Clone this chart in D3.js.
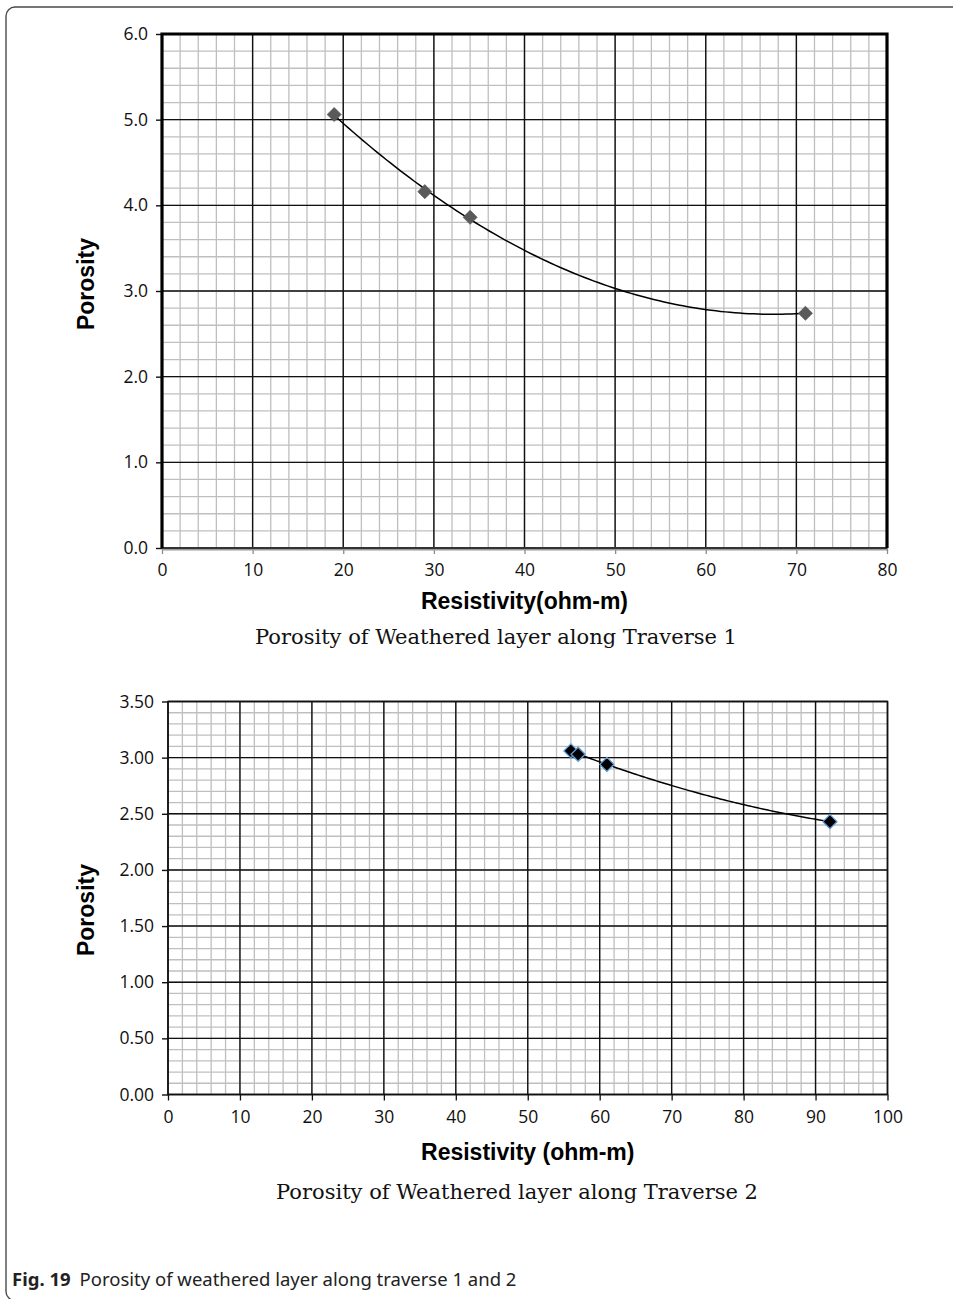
<!DOCTYPE html>
<html>
<head>
<meta charset="utf-8">
<script src="https://cdn.jsdelivr.net/npm/d3@7"></script>
<style>
  html, body { margin: 0; padding: 0; background: #fff; }
  svg { display: block; }
</style>
</head>
<body>
<svg id="fig" width="953" height="1299"></svg>
<script>
// Traverse 1: resistivity (ohm-m) vs porosity
const t1Resistivity = [19, 29, 34, 71];
const t1Porosity = [5.06, 4.16, 3.86, 2.74];
const t1XTicks = [0, 10, 20, 30, 40, 50, 60, 70, 80];
const t1YTicks = [0, 1, 2, 3, 4, 5, 6];

// Traverse 2: resistivity (ohm-m) vs porosity
const t2Resistivity = [56, 57, 61, 92];
const t2Porosity = [3.06, 3.03, 2.94, 2.43];
const t2XTicks = [0, 10, 20, 30, 40, 50, 60, 70, 80, 90, 100];
const t2YTicks = [0, 0.5, 1, 1.5, 2, 2.5, 3, 3.5];

const svg = d3.select("#fig");

// Rounded figure frame (continues past the right and bottom edges)
svg.append("rect")
  .attr("x", 6).attr("y", 7)
  .attr("width", 1000).attr("height", 1293.5)
  .attr("rx", 9).attr("ry", 9)
  .attr("fill", "none").attr("stroke", "#4a4a4a").attr("stroke-width", 1.4);

// Least-squares second-order polynomial fit, returns y(x)
function quadFit(xs, ys) {
  const S = k => d3.sum(xs, x => Math.pow(x, k));
  const T = k => d3.sum(xs, (x, i) => Math.pow(x, k) * ys[i]);
  const A = [[S(0), S(1), S(2), T(0)], [S(1), S(2), S(3), T(1)], [S(2), S(3), S(4), T(2)]];
  for (let c = 0; c < 3; c++) {
    let p = c;
    for (let r = c + 1; r < 3; r++) if (Math.abs(A[r][c]) > Math.abs(A[p][c])) p = r;
    [A[c], A[p]] = [A[p], A[c]];
    for (let r = 0; r < 3; r++) {
      if (r === c) continue;
      const f = A[r][c] / A[c][c];
      for (let k = c; k < 4; k++) A[r][k] -= f * A[c][k];
    }
  }
  const b = A.map((row, i) => row[3] / row[i]);
  return x => b[0] + b[1] * x + b[2] * x * x;
}

function drawChart(cfg) {
  const g = svg.append("g");
  const x = d3.scaleLinear().domain(cfg.xDomain).range([cfg.left, cfg.right]);
  const y = d3.scaleLinear().domain(cfg.yDomain).range([cfg.bottom, cfg.top]);

  // Minor grid
  const xMinor = d3.range(cfg.xDomain[0], cfg.xDomain[1] + 1e-9, cfg.xMinor);
  const yMinor = d3.range(cfg.yDomain[0], cfg.yDomain[1] + 1e-9, cfg.yMinor);
  g.append("g").selectAll("line").data(xMinor).join("line")
    .attr("x1", d => x(d)).attr("x2", d => x(d))
    .attr("y1", cfg.top).attr("y2", cfg.bottom)
    .attr("stroke", "#bfbfbf").attr("stroke-width", 1.3);
  g.append("g").selectAll("line").data(yMinor).join("line")
    .attr("x1", cfg.left).attr("x2", cfg.right)
    .attr("y1", d => y(d)).attr("y2", d => y(d))
    .attr("stroke", "#bfbfbf").attr("stroke-width", 1.3);

  // Major grid
  g.append("g").selectAll("line").data(cfg.xTicks).join("line")
    .attr("x1", d => x(d)).attr("x2", d => x(d))
    .attr("y1", cfg.top).attr("y2", cfg.bottom)
    .attr("stroke", "#111").attr("stroke-width", 1.4);
  g.append("g").selectAll("line").data(cfg.yTicks).join("line")
    .attr("x1", cfg.left).attr("x2", cfg.right)
    .attr("y1", d => y(d)).attr("y2", d => y(d))
    .attr("stroke", "#111").attr("stroke-width", 1.4);

  // Axes
  const xAxis = g.append("g")
    .attr("transform", `translate(0,${cfg.bottom})`)
    .call(d3.axisBottom(x).tickValues(cfg.xTicks).tickSize(6).tickPadding(10).tickFormat(d3.format("d")));
  const yAxis = g.append("g")
    .attr("transform", `translate(${cfg.left},0)`)
    .call(d3.axisLeft(y).tickValues(cfg.yTicks).tickSize(6).tickPadding(8).tickFormat(d3.format(cfg.yFormat)));
  [xAxis, yAxis].forEach(a => {
    a.select(".domain").remove();
    a.selectAll("text")
      .attr("font-family", "'Open Sans', sans-serif")
      .attr("font-size", 17.5)
      .attr("fill", "#111");
  });
  xAxis.selectAll("line").attr("stroke", cfg.xTickColor).attr("stroke-width", 1.3);
  yAxis.selectAll("line").attr("stroke", "#111").attr("stroke-width", 1.4);

  // Plot border
  if (cfg.heavyFrame) {
    g.append("line")
      .attr("x1", cfg.left).attr("x2", cfg.right)
      .attr("y1", cfg.bottom + 1.5).attr("y2", cfg.bottom + 1.5)
      .attr("stroke", "#9a9a9a").attr("stroke-width", 2);
    g.append("line")
      .attr("x1", cfg.left).attr("x2", cfg.right)
      .attr("y1", cfg.bottom).attr("y2", cfg.bottom)
      .attr("stroke", "#333").attr("stroke-width", 1.8);
    g.append("path")
      .attr("d", `M${cfg.left},${cfg.bottom}V${cfg.top}H${cfg.right}V${cfg.bottom}`)
      .attr("fill", "none").attr("stroke", "#000").attr("stroke-width", 3.2);
  } else {
    g.append("rect")
      .attr("x", cfg.left).attr("y", cfg.top)
      .attr("width", cfg.right - cfg.left).attr("height", cfg.bottom - cfg.top)
      .attr("fill", "none").attr("stroke", "#111").attr("stroke-width", 1.5);
  }

  // Trend line (second-order polynomial)
  const fit = quadFit(cfg.xs, cfg.ys);
  const [x0, x1] = d3.extent(cfg.xs);
  const samples = d3.range(0, 101).map(i => x0 + (x1 - x0) * i / 100);
  g.append("path")
    .datum(samples)
    .attr("d", d3.line().x(d => x(d)).y(d => y(fit(d))))
    .attr("fill", "none").attr("stroke", "#000").attr("stroke-width", 1.5);

  // Markers
  const sym = d3.symbol().type(d3.symbolDiamond2).size(cfg.markerSize);
  g.append("g").selectAll("path").data(cfg.xs.map((v, i) => [v, cfg.ys[i]])).join("path")
    .attr("transform", d => `translate(${x(d[0])},${y(d[1])})`)
    .attr("d", sym)
    .attr("fill", cfg.markerFill)
    .attr("stroke", cfg.markerStroke)
    .attr("stroke-width", cfg.markerStrokeWidth);

  // Axis titles
  g.append("text")
    .attr("x", (cfg.left + cfg.right) / 2).attr("y", cfg.xTitleY)
    .attr("text-anchor", "middle")
    .attr("font-family", "'Liberation Sans', Arial, sans-serif")
    .attr("font-weight", "bold").attr("font-size", 23)
    .text(cfg.xTitle);
  g.append("text")
    .attr("transform", `translate(${cfg.yTitleX},${cfg.yTitleCY}) rotate(-90)`)
    .attr("text-anchor", "middle")
    .attr("font-family", "'Liberation Sans', Arial, sans-serif")
    .attr("font-weight", "bold").attr("font-size", 23)
    .text("Porosity");

  // Chart subtitle
  g.append("text")
    .attr("x", cfg.subX).attr("y", cfg.subY)
    .attr("text-anchor", "middle")
    .attr("font-family", "'DejaVu Serif', serif")
    .attr("font-size", 21)
    .attr("fill", "#111")
    .text(cfg.subtitle);
}

drawChart({
  xs: t1Resistivity, ys: t1Porosity,
  xDomain: [0, 80], yDomain: [0, 6],
  xTicks: t1XTicks, yTicks: t1YTicks,
  xMinor: 2, yMinor: 0.2, yFormat: ".1f",
  left: 162, right: 887, top: 34, bottom: 548,
  heavyFrame: true, xTickColor: "#8a8a8a",
  markerFill: "#5a5a5a", markerStroke: "#5a5a5a", markerStrokeWidth: 0.8, markerSize: 125,
  xTitle: "Resistivity(ohm-m)", xTitleY: 609,
  yTitleX: 94, yTitleCY: 284,
  subtitle: "Porosity of Weathered layer along Traverse 1", subX: 496, subY: 644
});

drawChart({
  xs: t2Resistivity, ys: t2Porosity,
  xDomain: [0, 100], yDomain: [0, 3.5],
  xTicks: t2XTicks, yTicks: t2YTicks,
  xMinor: 2, yMinor: 0.1, yFormat: ".2f",
  left: 168, right: 887.5, top: 701.5, bottom: 1094.5,
  heavyFrame: false, xTickColor: "#111",
  markerFill: "#000", markerStroke: "#5b9bd5", markerStrokeWidth: 1.3, markerSize: 125,
  xTitle: "Resistivity (ohm-m)", xTitleY: 1160,
  yTitleX: 94, yTitleCY: 910,
  subtitle: "Porosity of Weathered layer along Traverse 2", subX: 517, subY: 1199
});

// Figure caption
const cap = svg.append("text")
  .attr("x", 12).attr("y", 1286)
  .attr("font-family", "'Noto Sans', 'Open Sans', sans-serif")
  .attr("font-size", 18.5).attr("fill", "#222");
cap.append("tspan").attr("font-weight", "bold").text("Fig. 19");
cap.append("tspan").attr("dx", 9).text("Porosity of weathered layer along traverse 1 and 2");
</script>
</body>
</html>
